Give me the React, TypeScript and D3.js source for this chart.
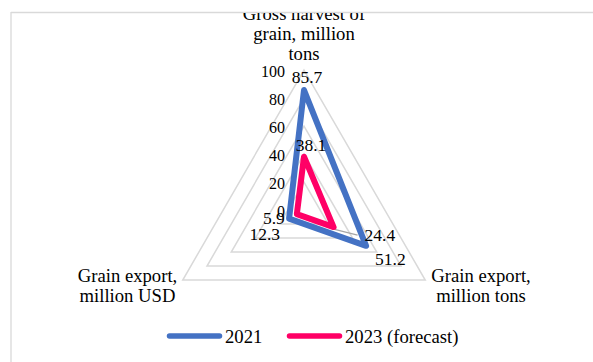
import React from "react";
import * as d3 from "d3";

// Radar axes, clockwise from the top
const categories = [
  ["Gross harvest of", "grain, million", "tons"],
  ["Grain export,", "million tons"],
  ["Grain export,", "million USD"],
];
const seriesNames = ["2021", "2023 (forecast)"];
const values2021 = [85.7, 51.2, 12.3];
const values2023 = [38.1, 24.4, 5.9];
const ticks = [0, 20, 40, 60, 80, 100];

const W = 593;
const H = 362;
const cx = 304;
const cy = 210;
const colors = ["#4472C4", "#FF0066"];
const FONT = '"Liberation Serif", "Times New Roman", Times, serif';

const r = d3.scaleLinear().domain([0, 100]).range([0, 140]);
const angle = (i: number) => -Math.PI / 2 + (i * 2 * Math.PI) / categories.length;
const pt = (i: number, v: number): [number, number] => [
  cx + r(v) * Math.cos(angle(i)),
  cy + r(v) * Math.sin(angle(i)),
];

// label placement offsets per series / axis (dx, dy, anchor)
const labelPlacement = [
  [
    { dx: 3, dy: -7, anchor: "middle" },
    { dx: 9, dy: 19, anchor: "start" },
    { dx: -9, dy: 21, anchor: "end" },
  ],
  [
    { dx: 7, dy: -6, anchor: "middle" },
    { dx: 31, dy: 14, anchor: "start", leader: true },
    { dx: -12, dy: 10, anchor: "end" },
  ],
];

const catLabelPos = [
  { x: cx, y: 19.5, anchor: "middle" },
  { x: 481, y: 282, anchor: "middle" },
  { x: 127.5, y: 282, anchor: "middle" },
];

const textStyle = { fontFamily: FONT };

export default function App() {
  const line = d3
    .line<[number, number]>()
    .x((d) => d[0])
    .y((d) => d[1])
    .curve(d3.curveLinearClosed);

  const series = [values2021, values2023];

  return (
    <svg
      width={W}
      height={H}
      style={{ position: "absolute", left: 0, top: 0, background: "#fff", fontFamily: FONT }}
    >
      <defs>
        <clipPath id="plotClip">
          <rect x={11} y={13} width={W} height={H} />
        </clipPath>
      </defs>
      {/* chart frame */}
      <line x1={11} x2={W} y1={12.5} y2={12.5} stroke="#d9d9d9" strokeWidth={1.3} />
      <line x1={11} x2={11} y1={12} y2={H} stroke="#d9d9d9" strokeWidth={1.3} />

      <g clipPath="url(#plotClip)">
        {/* grid triangles */}
        {ticks.slice(1).map((t) => (
          <path
            key={t}
            d={line(categories.map((_, i) => pt(i, t))) || ""}
            fill="none"
            stroke="#d9d9d9"
            strokeWidth={1.5}
          />
        ))}

        {/* tick labels */}
        {ticks.map((t) => (
          <text
            key={t}
            x={285}
            y={cy - r(t) + 7}
            textAnchor="end"
            fontSize={16}
            fill="#000"
            style={textStyle}
          >
            {t}
          </text>
        ))}

        {/* leader lines */}
        {series.map((vals, s) =>
          vals.map((v, i) => {
            const p = labelPlacement[s][i] as any;
            if (!p.leader) return null;
            const [x, y] = pt(i, v);
            return (
              <line
                key={`l${s}-${i}`}
                x1={x}
                y1={y + 2}
                x2={x + p.dx - 7}
                y2={y + p.dy - 6}
                stroke="#a6a6a6"
                strokeWidth={1.2}
              />
            );
          })
        )}

        {/* series */}
        {series.map((vals, s) => (
          <path
            key={s}
            d={line(vals.map((v, i) => pt(i, v))) || ""}
            fill="none"
            stroke={colors[s]}
            strokeWidth={6}
            strokeLinejoin="round"
          />
        ))}

        {/* data labels */}
        {series.map((vals, s) =>
          vals.map((v, i) => {
            const [x, y] = pt(i, v);
            const p = labelPlacement[s][i];
            return (
              <text
                key={`d${s}-${i}`}
                x={x + p.dx}
                y={y + p.dy}
                textAnchor={p.anchor as any}
                fontSize={17.5}
                fill="#000"
                style={textStyle}
              >
                {v}
              </text>
            );
          })
        )}

        {/* axis category labels */}
        {categories.map((lines, i) => (
          <text
            key={`c${i}`}
            x={catLabelPos[i].x}
            y={catLabelPos[i].y}
            textAnchor={catLabelPos[i].anchor as any}
            fontSize={18.67}
            fill="#000"
            style={textStyle}
          >
            {lines.map((l, k) => (
              <tspan key={k} x={catLabelPos[i].x} dy={k === 0 ? 0 : 20}>
                {l}
              </tspan>
            ))}
          </text>
        ))}
      </g>

      {/* legend */}
      {seriesNames.map((name, s) => {
        const x0 = s === 0 ? 167 : 287;
        return (
          <g key={name}>
            <line
              x1={x0 + 2.5}
              x2={x0 + 52.5}
              y1={336}
              y2={336}
              stroke={colors[s]}
              strokeWidth={5.5}
              strokeLinecap="round"
            />
            <text x={x0 + 58} y={342.5} fontSize={18.67} fill="#000" style={textStyle}>
              {name}
            </text>
          </g>
        );
      })}
    </svg>
  );
}
